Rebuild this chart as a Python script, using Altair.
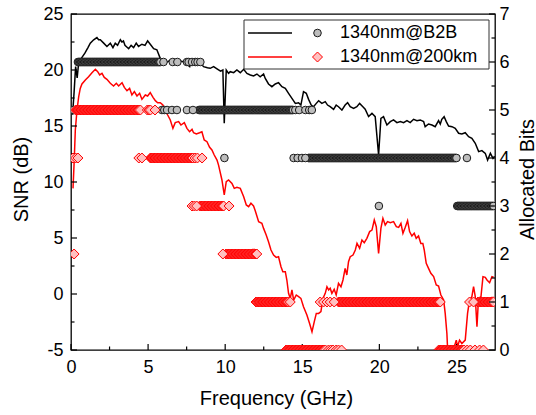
import altair as alt
import numpy as np
import pandas as pd

# ---------------- data ----------------
# SNR, 1340nm @ B2B (black line)
B2B_F = [0.1, 0.2, 0.3, 0.4, 0.5, 0.7, 0.9, 1.1, 1.25, 1.47,
         1.68, 1.79, 1.9, 2.12, 2.33, 2.55, 2.72, 2.87, 3.02, 3.2,
         3.3, 3.4, 3.5, 3.74, 3.9, 4.06, 4.23, 4.38, 4.6, 4.8,
         4.97, 5.14, 5.36, 5.57, 5.8, 5.9, 6.2, 6.5, 6.8, 7.1,
         7.4, 7.7, 7.8, 8.1, 8.4, 8.6, 8.85, 9.03, 9.25, 9.47,
         9.7, 9.85, 9.94, 10.07, 10.22, 10.33, 10.55, 10.76, 10.98, 11.2,
         11.41, 11.63, 11.84, 12.06, 12.27, 12.49, 12.6, 12.81, 13.03, 13.25,
         13.46, 13.68, 13.9, 14.11, 14.33, 14.55, 14.76, 14.91, 15.08, 15.26,
         15.41, 15.58, 15.73, 15.91, 16.06, 16.27, 16.49, 16.64, 16.81, 17.03,
         17.2, 17.35, 17.57, 17.78, 17.94, 18.11, 18.33, 18.54, 18.72, 18.93,
         19.08, 19.3, 19.52, 19.73, 19.95, 20.1, 20.27, 20.49, 20.71, 20.92,
         21.14, 21.36, 21.57, 21.79, 22.0, 22.22, 22.44, 22.65, 22.87, 22.97,
         23.19, 23.41, 23.62, 23.84, 23.95, 24.05, 24.2, 24.34, 24.49, 24.71,
         24.92, 25.14, 25.35, 25.57, 25.79, 26.0, 26.22, 26.44, 26.65, 26.87,
         27.02, 27.2, 27.37, 27.47]
B2B_SNR = [16.0, 18.0, 20.3, 19.3, 20.7, 21.1, 21.5, 22.0, 22.4, 22.7,
           22.9, 22.7, 22.7, 22.4, 22.1, 22.4, 22.0, 22.4, 22.2, 22.7,
           22.5, 22.6, 22.2, 21.9, 22.2, 22.0, 22.4, 22.1, 22.3, 22.2,
           22.6, 22.3, 21.9, 21.8, 21.0, 20.8, 20.7, 20.9, 20.6, 20.8,
           20.7, 20.3, 20.8, 20.7, 20.6, 20.3, 20.2, 20.15, 20.3, 20.1,
           19.9, 20.0, 15.24, 20.0, 19.7, 19.85, 19.76, 20.0, 19.76, 20.06,
           19.7, 19.56, 19.47, 19.64, 19.4, 19.64, 19.25, 18.75, 18.51, 18.75,
           18.87, 18.51, 18.36, 17.92, 17.47, 17.02, 17.08, 16.87, 18.07, 17.92,
           17.38, 16.87, 16.72, 17.02, 17.26, 17.02, 17.17, 16.87, 16.72, 16.48,
           16.87, 16.72, 16.42, 16.87, 17.08, 16.72, 16.57, 16.72, 17.02, 16.72,
           16.5, 15.85, 16.13, 15.83, 12.41, 15.68, 15.83, 15.09, 15.39, 15.54,
           15.3, 15.39, 15.3, 15.48, 15.3, 15.6, 15.48, 15.54, 15.39, 14.94,
           15.18, 15.09, 14.94, 15.48, 15.18, 15.6, 15.83, 15.39, 15.0, 14.94,
           14.79, 14.35, 14.29, 14.4, 14.05, 13.9, 13.46, 12.71, 12.8, 12.56,
           11.96, 12.56, 12.11, 12.3]

# SNR, 1340nm @ 200km (red line)
KM_F = [0.13, 0.21, 0.28, 0.39, 0.5, 0.6, 0.71, 0.93, 1.14, 1.36,
        1.58, 1.73, 1.86, 2.01, 2.16, 2.33, 2.55, 2.76, 2.94, 3.09,
        3.31, 3.46, 3.63, 3.8, 3.95, 4.11, 4.28, 4.45, 4.6, 4.82,
        4.97, 5.14, 5.32, 5.47, 5.62, 5.79, 5.96, 6.11, 6.27, 6.44,
        6.61, 6.76, 6.98, 7.13, 7.35, 7.52, 7.69, 7.85, 7.95, 8.13,
        8.34, 8.49, 8.64, 8.82, 8.99, 9.14, 9.29, 9.47, 9.57, 9.79,
        9.94, 10.07, 10.22, 10.44, 10.59, 10.76, 10.98, 11.2, 11.37, 11.52,
        11.67, 11.84, 11.95, 12.17, 12.38, 12.49, 12.66, 12.81, 12.97, 13.14,
        13.31, 13.46, 13.62, 13.74, 13.9, 14.0, 14.11, 14.22, 14.33, 14.44,
        14.61, 14.76, 14.91, 15.08, 15.3, 15.47, 15.63, 15.78, 15.91, 16.06,
        16.21, 16.34, 16.49, 16.6, 16.71, 16.81, 16.92, 17.07, 17.2, 17.35,
        17.51, 17.64, 17.78, 17.89, 18.0, 18.11, 18.29, 18.44, 18.55, 18.72,
        18.87, 19.02, 19.19, 19.37, 19.52, 19.67, 19.8, 19.95, 20.1, 20.23,
        20.38, 20.53, 20.71, 20.92, 21.1, 21.25, 21.4, 21.53, 21.68, 21.83,
        21.96, 22.11, 22.26, 22.39, 22.54, 22.69, 22.82, 22.91, 23.04, 23.19,
        23.34, 23.52, 23.69, 23.84, 23.99, 24.17, 24.27, 24.38, 24.43, 24.7,
        24.99, 25.07, 25.2, 25.35, 25.57, 25.72, 25.85, 26.0, 26.11, 26.22,
        26.33, 26.43, 26.59, 26.72, 26.87, 26.98, 27.15, 27.3, 27.41]
KM_SNR = [9.43, 11.96, 14.64, 16.43, 17.62, 18.36, 18.75, 19.11, 19.4, 19.76,
          20.06, 19.85, 19.56, 19.7, 19.34, 19.17, 18.81, 18.57, 18.81, 18.57,
          18.87, 18.45, 18.15, 18.36, 17.77, 18.07, 17.68, 17.92, 17.38, 17.77,
          17.68, 17.98, 17.56, 17.26, 17.08, 17.08, 16.87, 16.43, 15.98, 15.54,
          14.79, 15.3, 15.39, 15.09, 15.3, 14.79, 14.49, 14.7, 14.4, 14.29,
          14.4, 14.49, 13.75, 13.6, 13.1, 12.86, 12.41, 11.96, 11.51, 10.18,
          8.84, 10.03, 10.18, 9.88, 9.43, 9.52, 9.43, 8.69, 7.95, 7.8,
          8.1, 7.86, 7.44, 6.46, 6.31, 5.86, 5.27, 4.67, 3.93, 3.48,
          3.27, 3.33, 2.44, 1.99, 1.99, 1.25, 0.06, -0.39, 0.36, -0.54,
          -0.09, -0.24, -0.39, -1.13, -1.88, -2.62, -3.37, -2.47, -1.73, -1.73,
          -1.58, -0.39, 0.06, 0.65, 0.36, 0.51, 0.06, 0.42, -0.09, 0.95,
          0.65, 1.25, 2.29, 1.7, 2.89, 3.33, 3.48, 3.93, 4.52, 4.08,
          4.82, 4.58, 4.97, 5.57, 5.71, 6.61, 6.01, 3.63, 5.86, 6.76,
          6.16, 6.46, 6.37, 6.46, 6.01, 5.95, 6.31, 5.42, 5.95, 6.55,
          5.57, 5.18, 5.42, 4.97, 5.18, 4.52, 4.52, 3.93, 2.74, 2.29,
          1.85, 1.55, 0.8, 0.71, -0.09, -0.54, -1.73, -3.52, -5.01, -5.4,
          -4.12, -4.71, -4.12, -4.42, -4.12, -1.73, -0.54, -0.24, 0.65, -0.24,
          -2.92, -0.39, -0.24, 1.55, 1.49, 1.25, 1.01, 1.55, 1.49]

# Allocated bits: runs of consecutive subcarriers (start GHz, end GHz, bits)
SUBCARRIER_STEP = 0.05
B2B_RUN_START = [0.45, 8.3, 15.4, 25.05]
B2B_RUN_END = [5.8, 14.4, 25.0, 27.4]
B2B_RUN_BITS = [6, 5, 4, 3]
# isolated subcarriers
B2B_ISO_F = [6.0, 6.6, 6.9, 7.52, 7.63, 7.85, 8.06, 8.21, 8.39,
             0.17, 5.9, 6.05, 6.23, 6.55, 6.87, 7.52, 7.91, 14.55, 14.8, 15.2, 15.45, 15.62,
             9.95, 14.44, 14.7, 14.98, 15.2, 25.68,
             19.97]
B2B_ISO_BITS = [6, 6, 6, 6, 6, 6, 6, 6, 6,
                5, 5, 5, 5, 5, 5, 5, 5, 5, 5, 5, 5, 5,
                4, 4, 4, 4, 4, 4,
                3]

KM_RUN_START = [0.3, 5.15, 8.35, 10.05, 12.0, 13.95, 17.35, 23.85, 26.4]
KM_RUN_END = [4.4, 7.9, 9.9, 12.05, 14.1, 16.4, 23.95, 25.5, 27.4]
KM_RUN_BITS = [5, 4, 3, 2, 1, 0, 1, 0, 1]
KM_ISO_F = [4.5, 4.95, 5.05, 5.15, 5.45,
            0.13, 0.3, 0.45, 4.4, 4.6, 8.05, 8.2, 8.5,
            7.85, 8.0, 8.15, 10.25,
            0.2, 9.85,
            14.22, 16.16, 16.38, 16.6, 16.81, 17.07, 25.85, 26.11,
            16.5, 16.7, 16.85, 17.0, 17.2, 17.35, 17.55,
            25.7, 25.9, 26.2, 26.5, 26.75]
KM_ISO_BITS = [5, 5, 5, 5, 5,
               4, 4, 4, 4, 4, 4, 4, 4,
               3, 3, 3, 3,
               2, 2,
               1, 1, 1, 1, 1, 1, 1, 1,
               0, 0, 0, 0, 0, 0, 0,
               0, 0, 0, 0, 0]

X_MAJOR = [0, 5, 10, 15, 20, 25]
X_MINOR = [2.5, 7.5, 12.5, 17.5, 22.5]
L_MAJOR = [-5, 0, 5, 10, 15, 20, 25]
L_MINOR = [-2.5, 2.5, 7.5, 12.5, 17.5, 22.5]
R_MAJOR = [0, 1, 2, 3, 4, 5, 6, 7]
R_MINOR = [0.5, 1.5, 2.5, 3.5, 4.5, 5.5, 6.5]

LEGEND_LABELS = ["1340nm@B2B", "1340nm@200km"]


def expand(starts, ends, bits, iso_f, iso_b):
    f, b = [], []
    for s, e, v in zip(starts, ends, bits):
        grid = np.arange(s, e + 1e-6, SUBCARRIER_STEP)
        f += list(grid)
        b += [v] * len(grid)
    f += list(iso_f)
    b += list(iso_b)
    return pd.DataFrame({"f": f, "bits": b})


df_b2b = pd.DataFrame({"f": B2B_F, "snr": B2B_SNR})
df_km = pd.DataFrame({"f": KM_F, "snr": KM_SNR})
bits_b2b = expand(B2B_RUN_START, B2B_RUN_END, B2B_RUN_BITS, B2B_ISO_F, B2B_ISO_BITS)
bits_km = expand(KM_RUN_START, KM_RUN_END, KM_RUN_BITS, KM_ISO_F, KM_ISO_BITS)

# ---------------- styling ----------------
W, H = 424, 336
FONT = "Liberation Sans"
CIRCLE_FILL, CIRCLE_STROKE = "#bdbdbd", "#1a1a1a"
DIAM_FILL, DIAM_STROKE = "#ffc0c0", "#ff0000"

xs = alt.Scale(domain=[0, 27.5], nice=False, zero=False)
ysL = alt.Scale(domain=[-5, 25], nice=False, zero=False)
ysR = alt.Scale(domain=[0, 7], nice=False, zero=False)

common = dict(tickSize=0, domain=False, grid=False, labelFont=FONT, labelFontSize=18,
              labelColor="black", titleFont=FONT, titleFontSize=20, titleFontWeight="normal",
              titleColor="black", labelFlush=False, labelOverlap=False,
              labelExpr="'' + datum.value")

x_axis = alt.Axis(values=X_MAJOR, title="Frequency (GHz)", orient="bottom", labelPadding=8,
                  titleX=205, titleY=48, titleAlign="center", titleBaseline="middle", **common)
l_axis = alt.Axis(values=L_MAJOR, title="SNR (dB)", orient="left", labelPadding=8,
                  titleX=-50, titleY=165, titleAngle=270, titleAlign="center",
                  titleBaseline="middle", **common)
r_axis = alt.Axis(values=R_MAJOR, title="Allocated Bits", orient="right", labelPadding=4,
                  titleX=32, titleY=165, titleAngle=270, titleAlign="center",
                  titleBaseline="middle", **common)

X = alt.X("f:Q", scale=xs, axis=x_axis)
YL = alt.Y("snr:Q", scale=ysL, axis=l_axis)
YR = alt.Y("bits:Q", scale=ysR, axis=r_axis)

line_b2b = alt.Chart(df_b2b).mark_line(color="black", strokeWidth=1.5, clip=True).encode(x=X, y=YL)
line_km = alt.Chart(df_km).mark_line(color="#ff0000", strokeWidth=1.5, clip=True).encode(x=X, y=YL)

xt_major = alt.Chart(pd.DataFrame({"f": X_MAJOR})).mark_rule(color="black", strokeWidth=1.2).encode(
    x=X, y=alt.value(H), y2=alt.value(H - 6))
xt_minor = alt.Chart(pd.DataFrame({"f": X_MINOR})).mark_rule(color="black", strokeWidth=1.2).encode(
    x=X, y=alt.value(H), y2=alt.value(H - 3.5))
lt_major = alt.Chart(pd.DataFrame({"snr": L_MAJOR})).mark_rule(color="black", strokeWidth=1.2).encode(
    y=YL, x=alt.value(0), x2=alt.value(6))
lt_minor = alt.Chart(pd.DataFrame({"snr": L_MINOR})).mark_rule(color="black", strokeWidth=1.2).encode(
    y=YL, x=alt.value(0), x2=alt.value(3.5))

left = alt.layer(line_b2b, line_km, xt_major, xt_minor, lt_major, lt_minor)

circles = alt.Chart(bits_b2b).mark_point(shape="circle", filled=True, fill=CIRCLE_FILL,
                                         stroke=CIRCLE_STROKE, strokeWidth=1, size=58,
                                         opacity=1, clip=True).encode(x=X, y=YR)
diamonds = alt.Chart(bits_km).mark_point(shape="diamond", filled=True, fill=DIAM_FILL,
                                         stroke=DIAM_STROKE, strokeWidth=1, size=100,
                                         opacity=1, clip=True).encode(x=X, y=YR)
rt_major = alt.Chart(pd.DataFrame({"bits": R_MAJOR})).mark_rule(color="black", strokeWidth=1.2).encode(
    y=YR, x=alt.value(W - 6), x2=alt.value(W))
rt_minor = alt.Chart(pd.DataFrame({"bits": R_MINOR})).mark_rule(color="black", strokeWidth=1.2).encode(
    y=YR, x=alt.value(W - 3.5), x2=alt.value(W))

one = pd.DataFrame({"a": [0]})
leg_box = alt.Chart(one).mark_rect(fill="white", stroke="#333333", strokeWidth=1).encode(
    x=alt.value(173), x2=alt.value(418), y=alt.value(6), y2=alt.value(55))
leg_l1 = alt.Chart(one).mark_rule(color="black", strokeWidth=1.5).encode(
    x=alt.value(177), x2=alt.value(221), y=alt.value(19))
leg_l2 = alt.Chart(one).mark_rule(color="#ff0000", strokeWidth=1.5).encode(
    x=alt.value(177), x2=alt.value(221), y=alt.value(43))
leg_m1 = alt.Chart(one).mark_point(shape="circle", filled=True, fill=CIRCLE_FILL, stroke=CIRCLE_STROKE,
                                   strokeWidth=1, size=58, opacity=1).encode(
    x=alt.value(246.5), y=alt.value(19))
leg_m2 = alt.Chart(one).mark_point(shape="diamond", filled=True, fill=DIAM_FILL, stroke=DIAM_STROKE,
                                   strokeWidth=1, size=100, opacity=1).encode(
    x=alt.value(246.5), y=alt.value(43))
leg_t1 = alt.Chart(one).mark_text(align="left", baseline="middle", font=FONT, fontSize=18,
                                  color="black").encode(
    x=alt.value(269), y=alt.value(19), text=alt.value(LEGEND_LABELS[0]))
leg_t2 = alt.Chart(one).mark_text(align="left", baseline="middle", font=FONT, fontSize=18,
                                  color="black").encode(
    x=alt.value(269), y=alt.value(43), text=alt.value(LEGEND_LABELS[1]))

right = alt.layer(circles, diamonds, rt_major, rt_minor,
                  leg_box, leg_l1, leg_l2, leg_m1, leg_m2, leg_t1, leg_t2)

chart = alt.layer(left, right).resolve_scale(y="independent").properties(
    width=W, height=H,
    padding={"left": 71, "top": 14, "right": 41, "bottom": 65},
    autosize=alt.AutoSizeParams(type="none"),
    background="white",
).configure_view(stroke="black", strokeWidth=1.3)

chart.save("out.html", embed_options={"renderer": "svg", "actions": False})
